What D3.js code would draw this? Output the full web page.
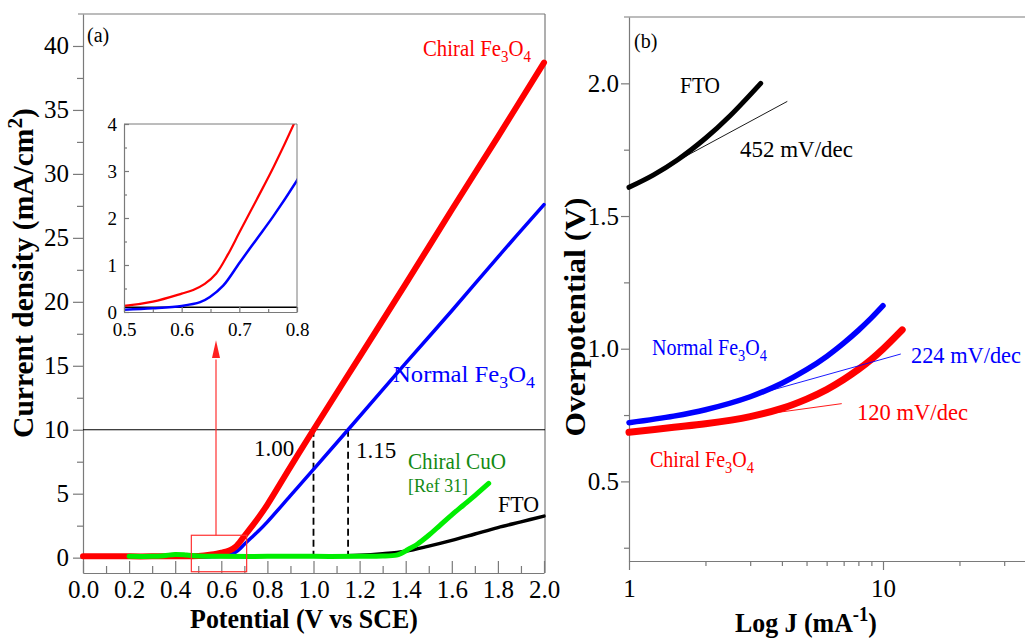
<!DOCTYPE html>
<html>
<head>
<meta charset="utf-8">
<script src="https://cdn.jsdelivr.net/npm/d3@7"></script>
<style>
body { margin: 0; background: #fff; }
svg { display: block; }
text { font-family: "Liberation Serif", "Times New Roman", serif; }
</style>
</head>
<body>
<svg id="chart" width="1025" height="639"></svg>
<script>
// ---- panel (a): current density vs potential ----
const potRed = [0, 0.1, 0.2, 0.3, 0.4, 0.5, 0.55, 0.6, 0.62, 0.64, 0.66, 0.68, 0.7, 0.73, 0.76, 0.8, 0.9, 1.0, 1.2, 1.4, 1.6, 1.8, 2.0];
const jRed = [0.1, 0.1, 0.1, 0.1, 0.11, 0.13, 0.22, 0.39, 0.47, 0.6, 0.82, 1.22, 1.69, 2.39, 3.1, 4.15, 7.1, 10.0, 15.7, 21.4, 27.2, 32.9, 38.7];

const potBlue = [0.5, 0.55, 0.6, 0.632, 0.649, 0.672, 0.701, 0.73, 0.759, 0.8, 0.9, 1.0, 1.15, 1.4, 1.6, 1.8, 2.0];
const jBlue = [0.05, 0.08, 0.13, 0.21, 0.32, 0.56, 1.06, 1.55, 2.04, 2.8, 4.85, 6.9, 10.0, 15.2, 19.3, 23.5, 27.6];

const potGreen = [0.2, 0.3, 0.35, 0.4, 0.45, 0.5, 0.6, 0.8, 1.0, 1.2, 1.3, 1.36, 1.38, 1.4, 1.42, 1.45, 1.5, 1.55, 1.6, 1.65, 1.7, 1.76];
const jGreen = [0.1, 0.1, 0.15, 0.25, 0.2, 0.12, 0.1, 0.1, 0.1, 0.1, 0.12, 0.2, 0.33, 0.52, 0.74, 1.05, 1.75, 2.55, 3.35, 4.1, 4.85, 5.8];

const potFTO = [0.4, 0.8, 1.0, 1.2, 1.3, 1.4, 1.5, 1.6, 1.7, 1.8, 1.9, 2.0];
const jFTO = [0.1, 0.1, 0.12, 0.18, 0.3, 0.5, 0.9, 1.35, 1.85, 2.35, 2.8, 3.25];

const xTicksA = [0, 0.2, 0.4, 0.6, 0.8, 1.0, 1.2, 1.4, 1.6, 1.8, 2.0];
const yTicksA = [0, 5, 10, 15, 20, 25, 30, 35, 40];
const xTicksInset = [0.5, 0.6, 0.7, 0.8];
const yTicksInset = [0, 1, 2, 3, 4];
const markV = [1.00, 1.15];   // potentials at 10 mA/cm2
const markJ = 10;

// ---- panel (b): Tafel plot ----
const jbFTO = [1, 1.25, 1.55, 2.0, 2.5, 3.3];
const etaFTO = [1.608, 1.655, 1.711, 1.793, 1.878, 2.0];
const jbNormal = [1, 1.5, 2, 3, 4, 5, 6, 7, 8, 9, 10];
const etaNormal = [0.721, 0.746, 0.770, 0.819, 0.870, 0.921, 0.971, 1.021, 1.069, 1.116, 1.162];
const jbChiral = [1, 1.5, 2, 3, 4, 5, 6, 7, 8, 9, 10, 11.9];
const etaChiral = [0.685, 0.704, 0.717, 0.744, 0.775, 0.810, 0.846, 0.884, 0.922, 0.960, 0.999, 1.071];

// tafel fit lines (two end points each)
const fitFTO = [[1, 1.61], [4.2, 1.932]];
const fitNormal = [[3.0, 0.821], [11.75, 0.98]];
const fitChiral = [[1.5, 0.706], [6.88, 0.793]];

const yTicksB = [0.5, 1.0, 1.5, 2.0];
const yMinorB = [0.25, 0.75, 1.25, 1.75];
const xTicksB = [1, 10];
const xMinorB = [2, 3, 4, 5, 6, 7, 8, 9, 20, 30];

const svg = d3.select("#chart");
const axisGrey = "#7a7a7a";
const serif = '"Liberation Serif","Times New Roman",serif';

function zip(xs, ys) { return xs.map((x, i) => [x, ys[i]]); }

function styleAxis(g, size) {
   g.attr("font-family", serif);
   g.selectAll("path.domain").attr("stroke", axisGrey).attr("stroke-width", 1.2);
   g.selectAll(".tick line").attr("stroke", axisGrey).attr("stroke-width", 1.2);
   g.selectAll("text").attr("fill", "#000").style("font-size", size + "px").style("font-family", serif);
}

// label with optional sub/sup parts: parts = ["text", ["3","sub"], ...]
// opts.len squeezes the text horizontally to that width
function label(x, y, parts, size, color, opts) {
   opts = opts || {};
   const t = svg.append("text").attr("x", 0).attr("y", 0)
      .attr("fill", color).style("font-size", size + "px").style("font-family", serif)
      .attr("text-anchor", opts.anchor || "start");
   if (opts.bold) t.style("font-weight", "bold");
   let shift = 0;
   parts.forEach(p => {
      if (typeof p === "string") {
         t.append("tspan").attr("dy", -shift).text(p);
         shift = 0;
      } else {
         const d = p[1] === "sub" ? size * 0.28 : -size * 0.38;
         t.append("tspan").attr("dy", d - shift).style("font-size", (size * 0.72) + "px").text(p[0]);
         shift = d;
      }
   });
   let sx = 1;
   if (opts.len) sx = opts.len / t.node().getComputedTextLength();
   t.attr("transform", `translate(${x},${y})` + (opts.rotate ? " rotate(-90)" : "") + ` scale(${sx},1)`);
   return t;
}

// ================= panel (a) =================
const xA = d3.scaleLinear().domain([0, 2]).range([83, 544]);
const yA = d3.scaleLinear().domain([-1.2, 42.5]).range([573, 14]);

const gA = svg.append("g");
gA.append("line").attr("x1", 78).attr("x2", 545).attr("y1", 14).attr("y2", 14).attr("stroke", axisGrey).attr("stroke-width", 1.2);
gA.append("line").attr("x1", 545).attr("x2", 545).attr("y1", 14).attr("y2", 573).attr("stroke", axisGrey).attr("stroke-width", 1.2);

const axAy = gA.append("g").attr("transform", "translate(83,0)")
   .call(d3.axisLeft(yA).tickValues(yTicksA).tickSize(10).tickSizeOuter(0).tickPadding(4).tickFormat(d3.format("d")));
styleAxis(axAy, 25);
const axAyMinor = gA.append("g").attr("transform", "translate(83,0)")
   .call(d3.axisLeft(yA).tickValues(d3.range(2.5, 41, 5)).tickSize(6).tickFormat(""));
axAyMinor.select("path.domain").remove();
styleAxis(axAyMinor, 25);

const axAx = gA.append("g").attr("transform", "translate(0,573)")
   .call(d3.axisBottom(xA).tickValues(xTicksA).tickSize(-12).tickSizeOuter(0).tickPadding(7).tickFormat(d3.format(".1f")));
styleAxis(axAx, 25);
const axAxMinor = gA.append("g").attr("transform", "translate(0,573)")
   .call(d3.axisBottom(xA).tickValues(d3.range(0.1, 2, 0.2)).tickSize(-7).tickFormat(""));
axAxMinor.select("path.domain").remove();
styleAxis(axAxMinor, 25);

// 10 mA/cm2 reference line + dashed drops
gA.append("line").attr("x1", xA(0)).attr("x2", 545).attr("y1", yA(markJ)).attr("y2", yA(markJ))
   .attr("stroke", "#000").attr("stroke-width", 1.2);
gA.selectAll("line.drop").data(markV).join("line").attr("class", "drop")
   .attr("x1", d => xA(d)).attr("x2", d => xA(d)).attr("y1", yA(markJ)).attr("y2", yA(0))
   .attr("stroke", "#000").attr("stroke-width", 1.8).attr("stroke-dasharray", "7,4");

const lineA = d3.line().x(d => xA(d[0])).y(d => yA(d[1])).curve(d3.curveCatmullRom.alpha(0.5));
const seriesA = [
   { d: zip(potFTO, jFTO), c: "#000", w: 3.5 },
   { d: zip(potBlue, jBlue), c: "#0000ff", w: 3.5 },
   { d: zip(potRed, jRed), c: "#ff0000", w: 6 },
   { d: zip(potGreen, jGreen), c: "#00ee00", w: 5 }
];
gA.selectAll("path.curve").data(seriesA).join("path").attr("class", "curve")
   .attr("d", s => lineA(s.d)).attr("fill", "none")
   .attr("stroke", s => s.c).attr("stroke-width", s => s.w)
   .attr("stroke-linecap", "round").attr("stroke-linejoin", "round");

// zoom box + arrow
const boxX = [0.47, 0.71], boxY = [-1.1, 1.75];
gA.append("rect").attr("x", xA(boxX[0])).attr("y", yA(boxY[1]))
   .attr("width", xA(boxX[1]) - xA(boxX[0])).attr("height", yA(boxY[0]) - yA(boxY[1]))
   .attr("fill", "none").attr("stroke", "#ff3030").attr("stroke-width", 1.2);
const arrowX = xA(0.577);
gA.append("line").attr("x1", arrowX).attr("x2", arrowX).attr("y1", yA(boxY[1])).attr("y2", yA(15.5))
   .attr("stroke", "#ff3030").attr("stroke-width", 1.2);
gA.append("path")
   .attr("d", `M${arrowX},${yA(17)} L${arrowX - 4},${yA(15.6)} L${arrowX + 4},${yA(15.6)} Z`)
   .attr("fill", "#ff2020");

// ---- inset ----
const xI = d3.scaleLinear().domain([0.5, 0.8]).range([124, 297]);
const yI = d3.scaleLinear().domain([0, 4]).range([312, 124]);
const gI = svg.append("g");
gI.append("rect").attr("x", 124).attr("y", 124).attr("width", 173).attr("height", 188).attr("fill", "#fff");
svg.append("clipPath").attr("id", "insetClip").append("rect").attr("x", 124).attr("y", 124).attr("width", 173).attr("height", 188);
const lineI = d3.line().x(d => xI(d[0])).y(d => yI(d[1])).curve(d3.curveCatmullRom.alpha(0.5));
const seriesI = [
   { d: [[0.5, 0.1], [0.8, 0.1]], c: "#000", w: 1.5 },
   { d: zip(potBlue, jBlue).filter(p => p[0] <= 0.9), c: "#0000ff", w: 2.5 },
   { d: zip(potRed, jRed).filter(p => p[0] >= 0.4 && p[0] <= 0.9), c: "#ff0000", w: 2.2 }
];
gI.append("g").attr("clip-path", "url(#insetClip)")
   .selectAll("path").data(seriesI).join("path")
   .attr("d", s => lineI(s.d))
   .attr("fill", "none").attr("stroke", s => s.c).attr("stroke-width", s => s.w);
gI.append("line").attr("x1", 124).attr("x2", 297).attr("y1", 124).attr("y2", 124).attr("stroke", axisGrey);
gI.append("line").attr("x1", 297).attr("x2", 297).attr("y1", 124).attr("y2", 312).attr("stroke", axisGrey);
const axIy = gI.append("g").attr("transform", "translate(124,0)")
   .call(d3.axisLeft(yI).tickValues(yTicksInset).tickSize(-5).tickSizeOuter(0).tickPadding(7).tickFormat(d3.format("d")));
styleAxis(axIy, 19);
const axIyMinor = gI.append("g").attr("transform", "translate(124,0)")
   .call(d3.axisLeft(yI).tickValues([0.5, 1.5, 2.5, 3.5]).tickSize(-3).tickFormat(""));
axIyMinor.select("path.domain").remove();
styleAxis(axIyMinor, 19);
const axIx = gI.append("g").attr("transform", "translate(0,312)")
   .call(d3.axisBottom(xI).tickValues(xTicksInset).tickSize(-5).tickSizeOuter(0).tickPadding(11).tickFormat(d3.format(".1f")));
styleAxis(axIx, 19);
const axIxMinor = gI.append("g").attr("transform", "translate(0,312)")
   .call(d3.axisBottom(xI).tickValues([0.55, 0.65, 0.75]).tickSize(-3).tickFormat(""));
axIxMinor.select("path.domain").remove();
styleAxis(axIxMinor, 19);

// panel (a) texts
label(87, 42, ["(a)"], 20, "#000");
label(423, 56, ["Chiral Fe", ["3", "sub"], "O", ["4", "sub"]], 23, "#ff0000", { len: 108 });
label(393, 382, ["Normal Fe", ["3", "sub"], "O", ["4", "sub"]], 23, "#0000ff", { len: 142 });
label(254, 456, ["1.00"], 23, "#000");
label(356, 458, ["1.15"], 23, "#000");
label(408, 469, ["Chiral CuO"], 23, "#138a13", { len: 98 });
label(408, 492, ["[Ref 31]"], 19, "#138a13", { len: 60 });
label(498, 512, ["FTO"], 23, "#000", { len: 41 });
label(33, 273, ["Current density (mA/cm", ["2", "sup"], ")"], 29, "#000", { bold: true, rotate: true, anchor: "middle", len: 330 });
label(304, 628, ["Potential (V vs SCE)"], 28, "#000", { bold: true, anchor: "middle", len: 228 });

// ================= panel (b) =================
const xB = d3.scaleLog().domain([1, 40]).range([629, 629 + 254 * Math.log10(40)]);
const yB = d3.scaleLinear().domain([0.2, 2.25]).range([561, 17]);
const gB = svg.append("g");
gB.append("line").attr("x1", 624).attr("x2", 1025).attr("y1", 17).attr("y2", 17).attr("stroke", axisGrey).attr("stroke-width", 1.2);

const axBy = gB.append("g").attr("transform", "translate(629,0)")
   .call(d3.axisLeft(yB).tickValues(yTicksB).tickSize(8).tickSizeOuter(0).tickPadding(2).tickFormat(d3.format(".1f")));
styleAxis(axBy, 25);
const axByMinor = gB.append("g").attr("transform", "translate(629,0)")
   .call(d3.axisLeft(yB).tickValues(yMinorB).tickSize(5).tickFormat(""));
axByMinor.select("path.domain").remove();
styleAxis(axByMinor, 25);

const axBx = gB.append("g").attr("transform", "translate(0,561)")
   .call(d3.axisBottom(xB).tickValues(xTicksB).tickSize(9).tickSizeOuter(0).tickPadding(9).tickFormat(d3.format("d")));
styleAxis(axBx, 25);
const axBxMinor = gB.append("g").attr("transform", "translate(0,561)")
   .call(d3.axisBottom(xB).tickValues(xMinorB).tickSize(5).tickFormat(""));
axBxMinor.select("path.domain").remove();
styleAxis(axBxMinor, 25);

const lineB = d3.line().x(d => xB(d[0])).y(d => yB(d[1])).curve(d3.curveCatmullRom.alpha(0.5));
const fitsB = [
   { d: fitFTO, c: "#000" },
   { d: fitNormal, c: "#0000ff" },
   { d: fitChiral, c: "#ff0000" }
];
const seriesB = [
   { d: zip(jbFTO, etaFTO), c: "#000", w: 5 },
   { d: zip(jbNormal, etaNormal), c: "#0000ff", w: 5.5 },
   { d: zip(jbChiral, etaChiral), c: "#ff0000", w: 7 }
];
gB.selectAll("path.curve").data(seriesB).join("path").attr("class", "curve")
   .attr("d", s => lineB(s.d)).attr("fill", "none")
   .attr("stroke", s => s.c).attr("stroke-width", s => s.w).attr("stroke-linecap", "round");
gB.selectAll("path.fit").data(fitsB).join("path").attr("class", "fit")
   .attr("d", s => d3.line().x(d => xB(d[0])).y(d => yB(d[1]))(s.d))
   .attr("stroke", s => s.c).attr("stroke-width", 0.9).attr("fill", "none");

label(634, 48, ["(b)"], 20, "#000");
label(680, 93, ["FTO"], 23, "#000", { len: 40 });
label(740, 157, ["452 mV/dec"], 24, "#000", { len: 113 });
label(652, 355, ["Normal Fe", ["3", "sub"], "O", ["4", "sub"]], 23, "#0000ff", { len: 115 });
label(911, 363, ["224 mV/dec"], 24, "#0000ff", { len: 110 });
label(857, 420, ["120 mV/dec"], 24, "#ff0000", { len: 111 });
label(650, 467, ["Chiral Fe", ["3", "sub"], "O", ["4", "sub"]], 23, "#ff0000", { len: 104 });
label(585, 317, ["Overpotential (V)"], 30, "#000", { bold: true, rotate: true, anchor: "middle", len: 239 });
label(806, 632, ["Log J (mA", ["-1", "sup"], ")"], 28, "#000", { bold: true, anchor: "middle", len: 142 });
</script>
</body>
</html>
